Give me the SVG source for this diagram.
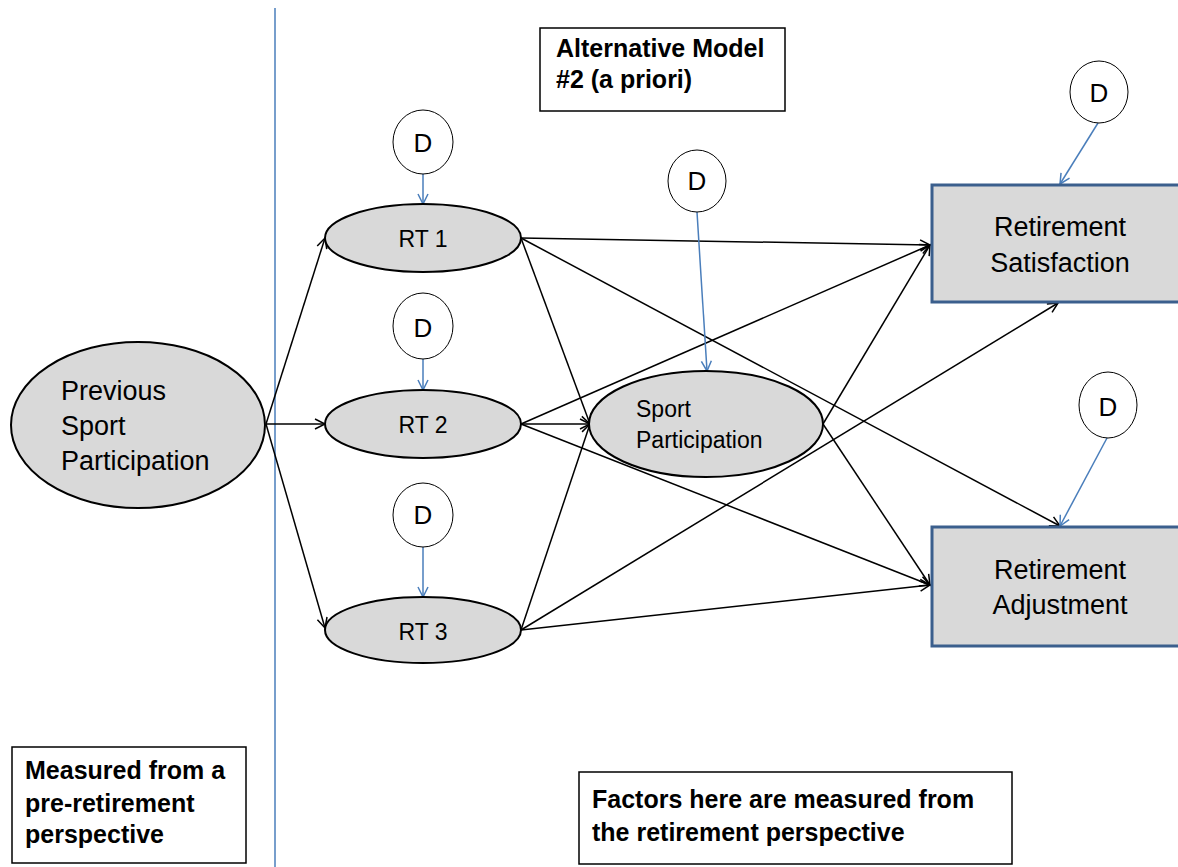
<svg xmlns="http://www.w3.org/2000/svg" width="1178" height="867" viewBox="0 0 1178 867">
<style>
.lat{fill:#d9d9d9;stroke:#000;stroke-width:2}
.dist{fill:#fff;stroke:#000;stroke-width:1}
.box{fill:#d9d9d9;stroke:#3b5f8d;stroke-width:3}
.note{fill:#fff;stroke:#000;stroke-width:1.5}
.t{font-family:"Liberation Sans",Arial,sans-serif;fill:#000}
.b{font-family:"Liberation Sans",Arial,sans-serif;font-weight:bold;font-size:25px;fill:#000}
.c{stroke:#000;stroke-width:1.5;fill:none;marker-end:url(#ah)}
.d{stroke:#4a7ebb;stroke-width:1.5;fill:none;marker-end:url(#ahb)}
</style>
<defs>
<marker id="ah" markerUnits="userSpaceOnUse" markerWidth="14" markerHeight="14" refX="11" refY="6" orient="auto" viewBox="0 0 14 12">
<path d="M1,1 L11,6 L1,11" fill="none" stroke="#000" stroke-width="1.5"/>
</marker>
<marker id="ahb" markerUnits="userSpaceOnUse" markerWidth="14" markerHeight="14" refX="11" refY="6" orient="auto" viewBox="0 0 14 12">
<path d="M1,1 L11,6 L1,11" fill="none" stroke="#4a7ebb" stroke-width="1.5"/>
</marker>
</defs>
<rect width="1178" height="867" fill="#fff"/>
<line x1="275" y1="8" x2="275" y2="867" stroke="#4a7ebb" stroke-width="1.5"/>

<g id="connectors">
<line class="c" x1="266" y1="424" x2="325" y2="238"/>
<line class="c" x1="266" y1="424" x2="325" y2="424"/>
<line class="c" x1="266" y1="424" x2="325" y2="628"/>
<line class="c" x1="521" y1="238" x2="930" y2="245"/>
<line class="c" x1="521" y1="238" x2="590" y2="424"/>
<line class="c" x1="521" y1="238" x2="1060" y2="526"/>
<line class="c" x1="521" y1="424" x2="590" y2="424"/>
<line class="c" x1="521" y1="424" x2="930" y2="245"/>
<line class="c" x1="521" y1="424" x2="930" y2="585"/>
<line class="c" x1="521" y1="630" x2="590" y2="424"/>
<line class="c" x1="521" y1="630" x2="1058" y2="303"/>
<line class="c" x1="521" y1="630" x2="930" y2="585"/>
<line class="c" x1="823" y1="424" x2="930" y2="245"/>
<line class="c" x1="823" y1="424" x2="930" y2="585"/>
<line class="d" x1="423" y1="174" x2="423" y2="204"/>
<line class="d" x1="423" y1="359" x2="423" y2="390"/>
<line class="d" x1="423" y1="547" x2="423" y2="597"/>
<line class="d" x1="697" y1="212" x2="707" y2="371"/>
<line class="d" x1="1098" y1="123" x2="1060" y2="184"/>
<line class="d" x1="1107" y1="438" x2="1060" y2="526"/>
</g>

<g id="prev">
<ellipse class="lat" cx="138" cy="425" rx="127" ry="83"/>
<text class="t" font-size="27" x="61" y="400">Previous</text>
<text class="t" font-size="27" x="61" y="435">Sport</text>
<text class="t" font-size="27" x="61" y="470">Participation</text>
</g>
<g id="rt1">
<ellipse class="lat" cx="423" cy="238" rx="98" ry="34"/>
<text class="t" font-size="23" x="423" y="247" text-anchor="middle">RT 1</text>
</g>
<g id="rt2">
<ellipse class="lat" cx="423" cy="424" rx="98" ry="34"/>
<text class="t" font-size="23" x="423" y="433" text-anchor="middle">RT 2</text>
</g>
<g id="rt3">
<ellipse class="lat" cx="423" cy="630" rx="98" ry="33"/>
<text class="t" font-size="23" x="423" y="640" text-anchor="middle">RT 3</text>
</g>
<g id="sp">
<ellipse class="lat" cx="706" cy="424" rx="117" ry="53"/>
<text class="t" font-size="23" x="636" y="417">Sport</text>
<text class="t" font-size="23" x="636" y="448">Participation</text>
</g>
<g id="rs">
<rect class="box" x="932" y="185" width="260" height="117"/>
<text class="t" font-size="27" x="1060" y="236" text-anchor="middle">Retirement</text>
<text class="t" font-size="27" x="1060" y="272" text-anchor="middle">Satisfaction</text>
</g>
<g id="ra">
<rect class="box" x="932" y="527" width="260" height="119"/>
<text class="t" font-size="27" x="1060" y="579" text-anchor="middle">Retirement</text>
<text class="t" font-size="27" x="1060" y="614" text-anchor="middle">Adjustment</text>
</g>

<g id="d1"><ellipse class="dist" cx="423" cy="142" rx="30" ry="32"/><text class="t" font-size="26" x="423" y="152" text-anchor="middle">D</text></g>
<g id="d2"><ellipse class="dist" cx="423" cy="326" rx="30" ry="33"/><text class="t" font-size="26" x="423" y="337" text-anchor="middle">D</text></g>
<g id="d3"><ellipse class="dist" cx="423" cy="515" rx="30" ry="32"/><text class="t" font-size="26" x="423" y="524" text-anchor="middle">D</text></g>
<g id="dsp"><ellipse class="dist" cx="697" cy="181" rx="29" ry="31"/><text class="t" font-size="26" x="697" y="190" text-anchor="middle">D</text></g>
<g id="drs"><ellipse class="dist" cx="1099" cy="92" rx="29" ry="31"/><text class="t" font-size="26" x="1099" y="102" text-anchor="middle">D</text></g>
<g id="dra"><ellipse class="dist" cx="1108" cy="405" rx="29" ry="33"/><text class="t" font-size="26" x="1108" y="416" text-anchor="middle">D</text></g>

<g id="title">
<rect class="note" x="540" y="28" width="245" height="83"/>
<text class="b" x="556" y="57">Alternative Model</text>
<text class="b" x="556" y="88">#2 (a priori)</text>
</g>
<g id="note-left">
<rect class="note" x="12" y="747" width="234" height="116"/>
<text class="b" x="25" y="779">Measured from a</text>
<text class="b" x="25" y="812">pre-retirement</text>
<text class="b" x="25" y="843">perspective</text>
</g>
<g id="note-right">
<rect class="note" x="579" y="772" width="433" height="92"/>
<text class="b" x="592" y="808">Factors here are measured from</text>
<text class="b" x="592" y="841">the retirement perspective</text>
</g>
</svg>
